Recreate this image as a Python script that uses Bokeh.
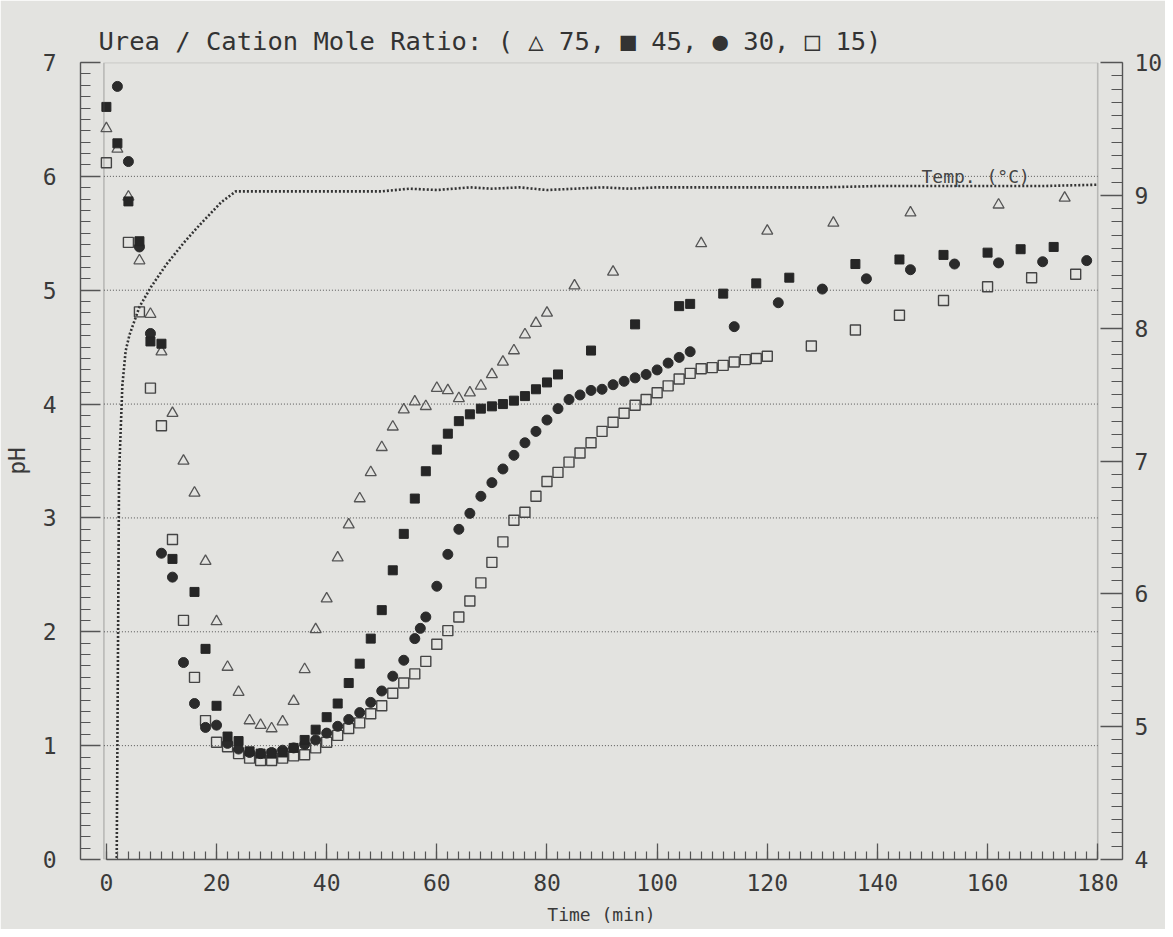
from bokeh.plotting import figure
from bokeh.models import (ColumnDataSource, Range1d, LinearAxis, SingleIntervalTicker,
                          BoxAnnotation, Label)
from bokeh.embed import file_html
from bokeh.resources import INLINE

# ---------------- data ----------------
# Urea / cation mole ratio 75 (open triangles)
t75 = [0, 2, 4, 6, 8, 10, 12, 14, 16, 18, 20, 22, 24, 26, 28, 30, 32, 34, 36, 38, 40,
       42, 44, 46, 48, 50, 52, 54, 56, 58, 60, 62, 64, 66, 68, 70, 72, 74, 76, 78, 80,
       85, 92, 108, 120, 132, 146, 162, 174]
ph75 = [6.42, 6.24, 5.82, 5.26, 4.79, 4.46, 3.92, 3.50, 3.22, 2.62, 2.09, 1.69, 1.47,
        1.22, 1.18, 1.15, 1.21, 1.39, 1.67, 2.02, 2.29, 2.65, 2.94, 3.17, 3.40, 3.62,
        3.80, 3.95, 4.02, 3.98, 4.14, 4.12, 4.05, 4.10, 4.16, 4.26, 4.37, 4.47, 4.61,
        4.71, 4.80, 5.04, 5.16, 5.41, 5.52, 5.59, 5.68, 5.75, 5.81]

# ratio 45 (filled squares)
t45 = [0, 2, 4, 6, 8, 10, 12, 16, 18, 20, 22, 24, 26, 28, 30, 32, 34, 36, 38, 40, 42,
       44, 46, 48, 50, 52, 54, 56, 58, 60, 62, 64, 66, 68, 70, 72, 74, 76, 78, 80, 82,
       88, 96, 104, 106, 112, 118, 124, 136, 144, 152, 160, 166, 172]
ph45 = [6.61, 6.29, 5.78, 5.43, 4.55, 4.53, 2.64, 2.35, 1.85, 1.35, 1.08, 1.04, 0.95,
        0.93, 0.93, 0.94, 0.98, 1.05, 1.14, 1.25, 1.37, 1.55, 1.72, 1.94, 2.19, 2.54,
        2.86, 3.17, 3.41, 3.60, 3.74, 3.85, 3.91, 3.96, 3.98, 4.00, 4.03, 4.07, 4.13,
        4.19, 4.26, 4.47, 4.70, 4.86, 4.88, 4.97, 5.06, 5.11, 5.23, 5.27, 5.31, 5.33,
        5.36, 5.38]

# ratio 30 (filled circles)
t30 = [2, 4, 6, 8, 10, 12, 14, 16, 18, 20, 22, 24, 26, 28, 30, 32, 34, 36, 38, 40, 42,
       44, 46, 48, 50, 52, 54, 56, 57, 58, 60, 62, 64, 66, 68, 70, 72, 74, 76, 78, 80,
       82, 84, 86, 88, 90, 92, 94, 96, 98, 100, 102, 104, 106, 114, 122, 130, 138, 146,
       154, 162, 170, 178]
ph30 = [6.79, 6.13, 5.38, 4.62, 2.69, 2.48, 1.73, 1.37, 1.16, 1.18, 1.02, 0.97, 0.94,
        0.93, 0.94, 0.96, 0.98, 1.01, 1.05, 1.11, 1.17, 1.23, 1.29, 1.38, 1.48, 1.61,
        1.75, 1.94, 2.03, 2.13, 2.40, 2.68, 2.90, 3.04, 3.19, 3.31, 3.43, 3.55, 3.66,
        3.76, 3.86, 3.96, 4.04, 4.08, 4.12, 4.13, 4.17, 4.20, 4.23, 4.26, 4.30, 4.36,
        4.41, 4.46, 4.68, 4.89, 5.01, 5.10, 5.18, 5.23, 5.24, 5.25, 5.26]

# ratio 15 (open squares)
t15 = [0, 4, 6, 8, 10, 12, 14, 16, 18, 20, 22, 24, 26, 28, 30, 32, 34, 36, 38, 40, 42,
       44, 46, 48, 50, 52, 54, 56, 58, 60, 62, 64, 66, 68, 70, 72, 74, 76, 78, 80, 82,
       84, 86, 88, 90, 92, 94, 96, 98, 100, 102, 104, 106, 108, 110, 112, 114, 116, 118,
       120, 128, 136, 144, 152, 160, 168, 176]
ph15 = [6.12, 5.42, 4.81, 4.14, 3.81, 2.81, 2.10, 1.60, 1.22, 1.03, 0.99, 0.93, 0.89,
        0.87, 0.87, 0.89, 0.91, 0.92, 0.98, 1.03, 1.09, 1.15, 1.20, 1.28, 1.35, 1.46,
        1.55, 1.63, 1.74, 1.89, 2.01, 2.13, 2.27, 2.43, 2.61, 2.79, 2.98, 3.05, 3.19,
        3.32, 3.40, 3.49, 3.57, 3.66, 3.76, 3.84, 3.92, 3.99, 4.04, 4.10, 4.16, 4.22,
        4.27, 4.31, 4.32, 4.34, 4.37, 4.39, 4.40, 4.42, 4.51, 4.65, 4.78, 4.91, 5.03,
        5.11, 5.14]

# temperature (deg C), right axis is graduated in units of 10 deg C
t_temp = [1.8, 2.3, 2.9, 3.5, 4.2, 6.0, 8.1, 10.9, 14.0, 17.0, 20.9, 23.5, 30, 40, 50,
          55, 60, 66, 70, 75, 80, 85, 90, 95, 100, 110, 120, 130, 140, 150, 160, 170, 180]
temp_c = [35, 69, 75.7, 78.3, 79.5, 81.6, 83.1, 84.8, 86.4, 87.8, 89.5, 90.3, 90.3, 90.3,
          90.3, 90.5, 90.4, 90.6, 90.5, 90.6, 90.4, 90.5, 90.6, 90.5, 90.6, 90.6, 90.6,
          90.6, 90.7, 90.7, 90.7, 90.7, 90.8]

grid_ph = [1, 2, 3, 4, 5, 6]
title_text = "Urea / Cation Mole Ratio: ( \u25b3 75, \u25a0 45, \u25cf 30, \u25a1 15)"

# ---------------- figure ----------------
FONT = "DejaVu Sans Mono"
INK = "#3a3a3a"
BG = "#e3e3e0"
BOX_L, BOX_R = -0.45, 180

p = figure(width=1165, height=929, x_range=Range1d(-4.7, 184.5), y_range=Range1d(0, 7),
           output_backend="svg", toolbar_location=None,
           min_border_left=74, min_border_right=36, min_border_top=62,
           min_border_bottom=70)
p.background_fill_color = BG
p.border_fill_color = BG
p.outline_line_color = None
p.xgrid.visible = False
p.ygrid.visible = False

p.title.text = title_text
p.title.text_font = FONT
p.title.text_font_size = "25.5px"
p.title.text_font_style = "normal"
p.title.text_color = "#333333"
p.title.align = "left"
p.title.offset = 18
p.title.standoff = 14

# frame box
p.add_layout(BoxAnnotation(left=BOX_L, right=BOX_R, bottom=0, top=7,
                           fill_alpha=0, line_color="#555555", line_width=1.6))

# horizontal dotted grid lines (inside the box only)
p.segment(x0=[BOX_L] * len(grid_ph), x1=[BOX_R] * len(grid_ph), y0=grid_ph, y1=grid_ph,
          line_color="#555555", line_width=1, line_dash="1 2")

# axes
xa = p.xaxis[0]
xa.ticker = SingleIntervalTicker(interval=20, num_minor_ticks=10)
xa.bounds = (0, 180)
xa.axis_label = "Time (min)"

ya = p.yaxis[0]
ya.ticker = SingleIntervalTicker(interval=1, num_minor_ticks=10)
ya.axis_label = "pH"

p.extra_y_ranges = {"temp": Range1d(4, 10)}
ra = LinearAxis(y_range_name="temp",
                ticker=SingleIntervalTicker(interval=1, num_minor_ticks=10))
p.add_layout(ra, "right")

for ax in (xa, ya, ra):
    ax.major_tick_out = 0
    ax.minor_tick_out = 0
    ax.axis_line_color = "#555555"
    ax.axis_line_width = 1.4
    ax.major_tick_line_color = "#555555"
    ax.minor_tick_line_color = "#555555"
    ax.major_tick_line_width = 1.3
    ax.minor_tick_line_width = 1.2
    ax.major_label_text_font = FONT
    ax.major_label_text_font_size = "23px"
    ax.major_label_text_color = INK
    ax.axis_label_text_font = FONT
    ax.axis_label_text_font_style = "normal"
    ax.axis_label_text_color = INK

xa.axis_label_text_font_size = "18px"
ya.axis_label_text_font_size = "23px"

xa.major_tick_in = 16
xa.minor_tick_in = 8
xa.major_label_standoff = 14
xa.axis_label_standoff = 10
ya.major_tick_in = 20
ya.minor_tick_in = 10
ya.major_label_standoff = 24
ya.axis_label_standoff = 10
ra.major_tick_in = 22
ra.minor_tick_in = 11
ra.major_label_standoff = 12

# temperature curve
src_t = ColumnDataSource(dict(t=t_temp, T=[c / 10 for c in temp_c]))
p.line(x="t", y="T", source=src_t, y_range_name="temp", line_color="#333333",
       line_width=2.6, line_dash="2 2")
p.add_layout(Label(x=148, y=6.0, text="Temp. (\u00b0C)", text_baseline="middle",
                   text_font=FONT, text_font_size="18px", text_color="#444444"))

# pH series
p.scatter(t15, ph15, marker="square", size=10, fill_color=None, line_color="#444444",
          line_width=1.4)
p.scatter(t75, ph75, marker="triangle", size=11, fill_color=None, line_color="#555555",
          line_width=1.3)
p.scatter(t30, ph30, marker="circle", size=10, fill_color="#2b2b2b", line_color="#2b2b2b")
p.scatter(t45, ph45, marker="square", size=9, fill_color="#262626", line_color="#262626")

open("out.html", "w").write(file_html(p, INLINE))
